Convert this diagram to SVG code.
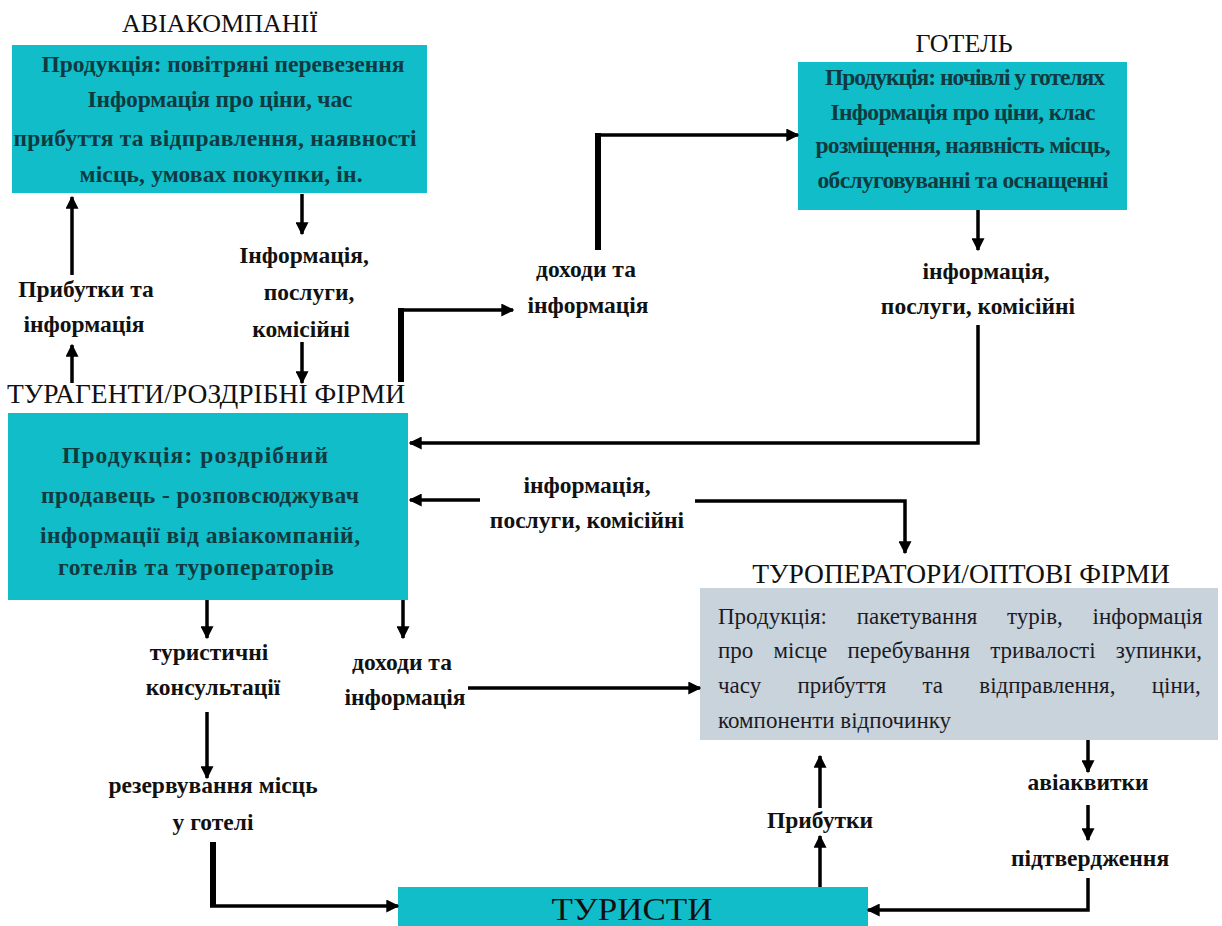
<svg xmlns="http://www.w3.org/2000/svg" width="1222" height="926" viewBox="0 0 1222 926">
<style>
text{font-family:'Liberation Serif','Times New Roman','DejaVu Serif',serif}
.title{font-size:26px;fill:#111;text-anchor:middle}
.tbig{font-size:27.5px}
.box{font-size:23.5px;font-weight:bold;fill:#0e3a40;text-anchor:middle}
.lbl{font-size:23.5px;font-weight:bold;fill:#111;text-anchor:middle}
.to{font-size:23px;fill:#1b1b24}
.ln{fill:none;stroke:#000;stroke-width:3.5}
.th{fill:none;stroke:#000;stroke-width:6}
</style>
<defs>
<marker id="ah" viewBox="0 0 10 10" refX="9" refY="5" markerWidth="13" markerHeight="13" markerUnits="userSpaceOnUse" orient="auto"><path d="M0,0 L10,5 L0,10 z" fill="#000"/></marker>
</defs>
<rect width="1222" height="926" fill="#fff"/>

<g id="airlines">
<text class="title" x="220" y="32">АВІАКОМПАНІЇ</text>
<rect x="12" y="45" width="415" height="148" fill="#10bdc9"/>
<text class="box" x="223" y="72" textLength="363" lengthAdjust="spacing">Продукція: повітряні перевезення</text>
<text class="box" x="220" y="107" textLength="265" lengthAdjust="spacing">Інформація про ціни, час</text>
<text class="box" x="215" y="146" textLength="403" lengthAdjust="spacing">прибуття та відправлення, наявності</text>
<text class="box" x="221" y="182" textLength="283" lengthAdjust="spacing">місць, умовах покупки, ін.</text>
</g>

<g id="hotel">
<text class="title" x="964" y="52">ГОТЕЛЬ</text>
<rect x="798" y="62" width="329" height="148" fill="#10bdc9"/>
<text class="box" x="965" y="85" textLength="280" lengthAdjust="spacing">Продукція: ночівлі у готелях</text>
<text class="box" x="963" y="120" textLength="265" lengthAdjust="spacing">Інформація про ціни, клас</text>
<text class="box" x="963" y="153" textLength="295" lengthAdjust="spacing">розміщення, наявність місць,</text>
<text class="box" x="963" y="188" textLength="291" lengthAdjust="spacing">обслуговуванні та оснащенні</text>
</g>

<g id="agents">
<text class="title tbig" x="206" y="403" textLength="398" lengthAdjust="spacing">ТУРАГЕНТИ/РОЗДРІБНІ ФІРМИ</text>
<rect x="8" y="413" width="400" height="187" fill="#10bdc9"/>
<text class="box" x="195" y="463" textLength="266" lengthAdjust="spacing">Продукція: роздрібний</text>
<text class="box" x="200" y="503" textLength="318" lengthAdjust="spacing">продавець - розповсюджувач</text>
<text class="box" x="200" y="543" textLength="320" lengthAdjust="spacing">інформації від авіакомпаній,</text>
<text class="box" x="196" y="575" textLength="276" lengthAdjust="spacing">готелів та туроператорів</text>
</g>

<g id="touroperators">
<text class="title tbig" x="961" y="583">ТУРОПЕРАТОРИ/ОПТОВІ ФІРМИ</text>
<rect x="700" y="588" width="518" height="152" fill="#c9d3dc"/>
<text class="to" x="718" y="624" word-spacing="24">Продукція: пакетування турів, інформація</text>
<text class="to" x="718" y="658" word-spacing="14.5">про місце перебування тривалості зупинки,</text>
<text class="to" x="718" y="693" word-spacing="30.5">часу прибуття та відправлення, ціни,</text>
<text class="to" x="718" y="728">компоненти відпочинку</text>
</g>

<g id="tourists">
<rect x="398" y="887" width="470" height="39" fill="#10bdc9"/>
<text x="632" y="920" font-size="32" fill="#111" text-anchor="middle" textLength="161" lengthAdjust="spacingAndGlyphs">ТУРИСТИ</text>
</g>

<g id="labels">
<text class="lbl" x="86" y="297">Прибутки та</text>
<text class="lbl" x="84" y="332">інформація</text>
<text class="lbl" x="304" y="263">Інформація,</text>
<text class="lbl" x="309" y="300">послуги,</text>
<text class="lbl" x="301" y="337">комісійні</text>
<text class="lbl" x="586" y="277">доходи та</text>
<text class="lbl" x="588" y="313">інформація</text>
<text class="lbl" x="986" y="279">інформація,</text>
<text class="lbl" x="978" y="314">послуги, комісійні</text>
<text class="lbl" x="587" y="493">інформація,</text>
<text class="lbl" x="587" y="528">послуги, комісійні</text>
<text class="lbl" x="209" y="660">туристичні</text>
<text class="lbl" x="213" y="695">консультації</text>
<text class="lbl" x="402" y="670">доходи та</text>
<text class="lbl" x="405" y="705">інформація</text>
<text class="lbl" x="213" y="793">резервування місць</text>
<text class="lbl" x="213" y="830">у готелі</text>
<text class="lbl" x="820" y="828">Прибутки</text>
<text class="lbl" x="1088" y="790">авіаквитки</text>
<text class="lbl" x="1090" y="866">підтвердження</text>
</g>

<g id="connectors">
<path class="ln" d="M72 275 V197" marker-end="url(#ah)"/>
<path class="ln" d="M72 383 V345" marker-end="url(#ah)"/>
<path class="ln" d="M302 194 V234" marker-end="url(#ah)"/>
<path class="ln" d="M302 342 V383" marker-end="url(#ah)"/>
<path class="th" d="M401 382 V308"/>
<path class="ln" d="M398 310 H513" marker-end="url(#ah)"/>
<path class="th" d="M598 250 V133"/>
<path class="ln" d="M595 135 H798" marker-end="url(#ah)"/>
<path class="ln" d="M978 210 V250" marker-end="url(#ah)"/>
<path class="ln" d="M978 325 V443 H410" marker-end="url(#ah)"/>
<path class="ln" d="M480 500 H410" marker-end="url(#ah)"/>
<path class="ln" d="M695 501 H905 V553" marker-end="url(#ah)"/>
<path class="ln" d="M207 600 V638" marker-end="url(#ah)"/>
<path class="ln" d="M403 600 V638" marker-end="url(#ah)"/>
<path class="ln" d="M468 688 H700" marker-end="url(#ah)"/>
<path class="ln" d="M207 712 V778" marker-end="url(#ah)"/>
<path class="th" d="M213 842 V906"/>
<path class="ln" d="M210 906 H398" marker-end="url(#ah)"/>
<path class="ln" d="M820 887 V836" marker-end="url(#ah)"/>
<path class="ln" d="M820 808 V756" marker-end="url(#ah)"/>
<path class="ln" d="M1088 740 V772" marker-end="url(#ah)"/>
<path class="ln" d="M1088 805 V840" marker-end="url(#ah)"/>
<path class="ln" d="M1088 878 V910 H868" marker-end="url(#ah)"/>
</g>
</svg>
